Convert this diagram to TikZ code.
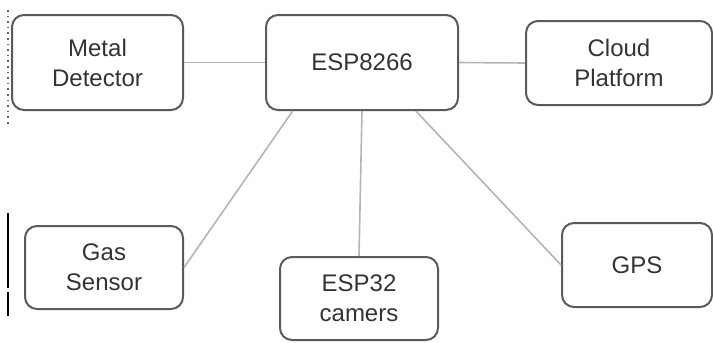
\documentclass[tikz,border=0pt]{standalone}
\usepackage{fontspec}
\setmainfont{Liberation Sans}
\usepackage{xcolor}
\usetikzlibrary{positioning}
\definecolor{boxgray}{HTML}{5A5A5A}
\definecolor{wiregray}{HTML}{B4B4B4}
\definecolor{textgray}{HTML}{333333}

\tikzset{
    unit/.style={draw=boxgray, line width=1pt, rounded corners=6pt, align=center, text=textgray, font=\fontsize{12}{15}\selectfont, inner sep=0pt},
    wire/.style={draw=wiregray, line width=0.8pt}
}

\begin{document}
\begin{tikzpicture}[x=0.5pt, y=-0.5pt]
    \useasboundingbox (0,0) rectangle (713,343);
    \node[unit, minimum width=85.5pt, minimum height=47.5pt] (metal) at (97.5,62.5) {Metal\\Detector};
    \node[unit, minimum width=96pt, minimum height=47.5pt] (esp) at (362,62.5) {ESP8266};
    \node[unit, minimum width=93pt, minimum height=42pt] (cloud) at (619,63) {Cloud\\Platform};
    \node[unit, minimum width=79pt, minimum height=41.5pt] (gas) at (104,267.5) {Gas\\Sensor};
    \node[unit, minimum width=79pt, minimum height=41.5pt] (cam) at (359,298.5) {ESP32\\camers};
    \node[unit, minimum width=75pt, minimum height=42pt] (gps) at (637,265) {GPS};

    \draw[wire] (metal.east) -- (esp.west);
    \draw[wire] (esp.east) -- (cloud.west);
    \draw[wire] (esp.215) -- (gas.east);
    \draw[wire] (esp.south) -- (cam.north);
    \draw[wire] (esp.318) -- (gps.west);

    \draw[black, line width=1pt] (8,213) -- (8,288) (8,292) -- (8,316);
    \draw[black!60, line width=0.8pt, dotted] (8,10) -- (8,125);
\end{tikzpicture}
\end{document}
